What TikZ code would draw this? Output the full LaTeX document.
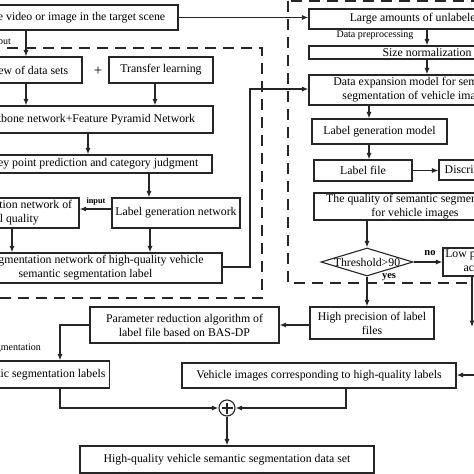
\documentclass[tikz,border=0pt]{standalone}
\usepackage{fontspec}
\setmainfont{Liberation Serif}
\usetikzlibrary{arrows.meta,calc,shapes.geometric}
\newcommand\fs{\fontsize{11.8}{14}\selectfont}
\newcommand\fsm{\fontsize{10}{12}\selectfont}
\begin{document}
\begin{tikzpicture}[x=1pt,y=-1pt,
  box/.style={draw=black!85,line width=1.1pt,inner sep=0pt,align=center,font=\fs,text=black},
  arr/.style={draw=black!85,line width=1.1pt,-{Latex[length=6.5pt,width=5pt]}},
  dsh/.style={draw=black!85,line width=1.7pt,dash pattern=on 11pt off 7pt},
  lbl/.style={font=\fsm,text=black,inner sep=0pt},
  blbl/.style={font=\fontsize{10.5}{12}\selectfont\bfseries,text=black,inner sep=0pt}]
\useasboundingbox (0,0) rectangle (474,474);
\fill[white] (0,0) rectangle (474,474);
\clip (0,0) rectangle (474,474);
% dashed regions
\draw[dsh] (-20,48) rectangle (262,298);
\draw[dsh] (288,1) rectangle (490,283);
% left column
\node[box,minimum width=206pt,minimum height=25pt] (top) at (75,17.5) {The video or image in the target scene};
\node[lbl,anchor=east] (inp) at (11,42) {Input};
\node[box,minimum width=130pt,minimum height=26pt] (ov) at (17,70) {Overview of data sets};
\node[font=\fontsize{15}{15}\selectfont,inner sep=0pt] (plus) at (98,71) {+};
\node[box,minimum width=104pt,minimum height=26pt] (tl) at (161,70) {Transfer learning};
\node[box,minimum width=254pt,minimum height=27pt] (bb) at (86,119.5) {Backbone network+Feature Pyramid Network};
\node[box,minimum width=236pt,minimum height=18pt] (kp) at (94,164) {Key point prediction and category judgment};
\node[box,minimum width=128pt,minimum height=30pt] (lgn) at (176,213) {Label generation network};
\node[box,minimum width=139pt,minimum height=30pt] (disc) at (9.5,213) {Discrimination network of\\label quality};
\node[blbl,font=\fontsize{8.3}{10}\selectfont\bfseries] (inl) at (96,202) {input};
\node[box,minimum width=273pt,minimum height=30pt] (seg) at (85.5,268) {The segmentation network of high-quality vehicle\\semantic segmentation label};
% right column
\node[box,minimum width=236pt,minimum height=20pt] (large) at (427,19) {Large amounts of unlabeled data};
\node[lbl] (pre) at (375,35.5) {Data preprocessing};
\node[box,minimum width=236pt,minimum height=13pt] (size) at (427,52.5) {Size normalization};
\node[box,minimum width=216pt,minimum height=30pt] (dexp) at (417,90) {Data expansion model for semantic\\segmentation of vehicle images};
\node[box,minimum width=135pt,minimum height=25pt] (lgm) at (379.5,131.5) {Label generation model};
\node[box,minimum width=98pt,minimum height=21pt] (lf) at (363,170.5) {Label file};
\node[box,minimum width=77pt,minimum height=20pt] (dis) at (477.5,170) {Discriminator};
\node[box,minimum width=202pt,minimum height=27pt] (qual) at (415,206.5) {The quality of semantic segmentation\\for vehicle images};
\node[draw=black!85,line width=1.1pt,shape=diamond,minimum width=92pt,minimum height=28pt,inner sep=0pt,
  label={[font=\fs,text=black]center:Threshold>90}] (dia) at (367,262) {};
\node[blbl] (no) at (430,253) {no};
\node[blbl] (yes) at (389,277) {yes};
\node[box,minimum width=111pt,minimum height=28pt] (low) at (498.5,262) {Low precision of label\\active learning};
\node[box,minimum width=124pt,minimum height=32pt] (hp) at (372,323) {High precision of label\\files};
\node[box,minimum width=189pt,minimum height=36pt] (par) at (184.5,325) {Parameter reduction algorithm of\\label file based on BAS-DP};
\node[lbl,anchor=east] (semt) at (41,348) {Semantic segmentation};
\node[box,anchor=east,inner xsep=4pt,minimum height=27pt] (sl) at (110,374.5) {High-quality vehicle semantic segmentation labels};
\node[box,minimum width=274pt,minimum height=25pt] (veh) at (319,375.5) {Vehicle images corresponding to high-quality labels};
\node[draw=black!85,line width=1.1pt,circle,minimum size=16pt,inner sep=0pt] (op) at (227,408) {};
\draw[black!85,line width=1.1pt] ($(op.center)+(-5.5,0)$) -- ($(op.center)+(5.5,0)$) ($(op.center)+(0,-5.5)$) -- ($(op.center)+(0,5.5)$);
\node[box,minimum width=294pt,minimum height=27pt] (fin) at (227,459.5) {High-quality vehicle semantic segmentation data set};
\coordinate (lowend) at (472,327);
\coordinate (vin) at (490,375);
% connectors
\draw[arr] (top.east) -- (top.east -| large.west);
\draw[arr] (top.south -| 26,0) -- (ov.north -| 26,0);
\draw[arr] (ov.south -| 26,0) -- (bb.north -| 26,0);
\draw[arr] (tl.south -| 155,0) -- (bb.north -| 155,0);
\draw[arr] (bb.south -| 88,0) -- (kp.north -| 88,0);
\draw[arr] (kp.south -| 149,0) -- (lgn.north -| 149,0);
\draw[arr] (lgn.west |- 0,209) -- (disc.east |- 0,209);
\draw[arr] (disc.south -| 12,0) -- (seg.north -| 12,0);
\draw[arr] (lgn.south -| 150,0) -- (seg.north -| 150,0);
\draw[arr] (seg.east |- 0,267) -- (250,267) -- (250,89) -- (dexp.west |- 0,89);
\draw[arr] (large.south -| 427,0) -- (size.north -| 427,0);
\draw[arr] (size.south -| 427,0) -- (dexp.north -| 427,0);
\draw[arr] (dexp.south -| 369,0) -- (lgm.north -| 369,0);
\draw[arr] (lgm.south -| 369,0) -- (lf.north -| 369,0);
\draw[arr] (lf.east) -- (lf.east -| dis.west);
\draw[arr] (qual.south -| dia.north) -- (dia.north);
\draw[arr] (dia.east) -- (dia.east -| low.west);
\draw[arr] (dia.south) -- (dia.south |- hp.north);
\draw[arr] (low.south -| lowend) -- (lowend);
\draw[arr] (hp.west |- 0,325) -- (par.east |- 0,325);
\draw[arr] (par.west |- 0,325) -- (60,325) -- (sl.north -| 60,0);
\draw[arr] (sl.south -| 60,0) -- (60,408) -- (op.west);
\draw[arr] (veh.south -| 346,0) -- (346,408) -- (op.east);
\draw[arr] (op.south) -- (fin.north);
\draw[arr] (vin) -- (veh.east |- vin);
\end{tikzpicture}
\end{document}
